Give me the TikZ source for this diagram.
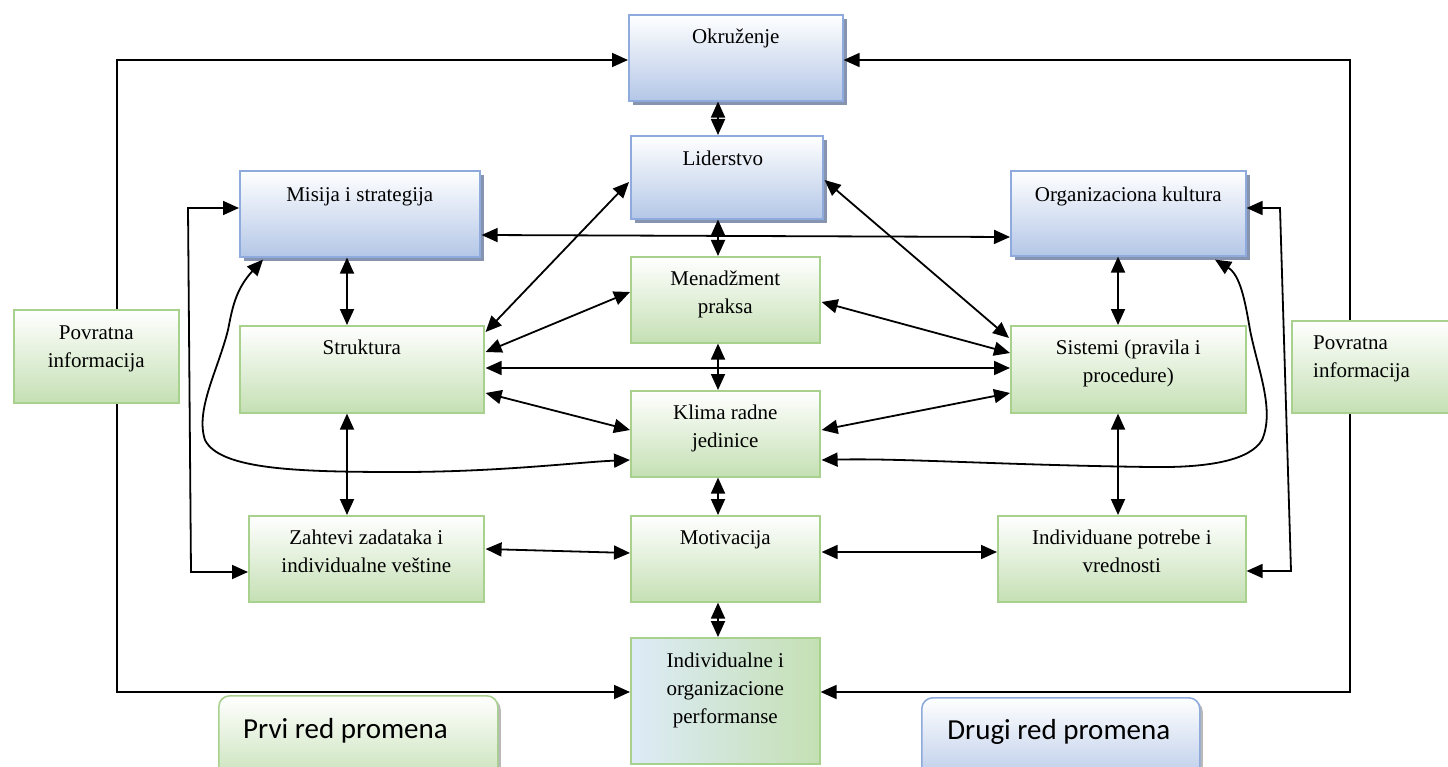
\documentclass[tikz,border=0pt]{standalone}
\usepackage{fontspec}
\setmainfont{Liberation Serif}
\newfontfamily\calib{Carlito}
\usetikzlibrary{arrows.meta,shadows,calc}
\definecolor{bline}{RGB}{143,170,220}
\definecolor{bfill}{RGB}{180,199,231}
\definecolor{bshadow}{RGB}{135,148,175}
\definecolor{gline}{RGB}{169,209,142}
\definecolor{gfill}{RGB}{197,224,180}
\definecolor{pleft}{RGB}{221,235,247}
\definecolor{lshadow}{RGB}{185,185,185}
\tikzset{
  conn/.style={line width=1.8pt, {Triangle[length=16pt,width=14pt]}-{Triangle[length=16pt,width=14pt]}},
  boxbase/.style={anchor=north west, inner sep=0pt, line width=1.6pt},
  bluebox/.style={boxbase, draw=bline, top color=white, bottom color=bfill,
     drop shadow={shadow xshift=4.5pt, shadow yshift=-4.5pt, fill=bshadow, opacity=1}},
  greenbox/.style={boxbase, draw=gline, top color=white, bottom color=gfill},
  lbl/.style={font=\fontsize{21}{28}\selectfont, align=center, inner sep=0pt, anchor=north},
  leg/.style={font=\calib\fontsize{29}{34}\selectfont, inner sep=0pt},
}
\begin{document}
\begin{tikzpicture}[x=1pt,y=-1pt]
\useasboundingbox (0,0) rectangle (1448,767);
% ---------- boxes ----------
\node[bluebox, minimum width=214pt, minimum height=86pt] (okr) at (628,14) {};
\node[bluebox, minimum width=192pt, minimum height=83pt] (lid) at (630,135) {};
\node[bluebox, minimum width=240pt, minimum height=86pt] (mis) at (239,170) {};
\node[bluebox, minimum width=235pt, minimum height=85pt] (org) at (1010,170) {};
\node[greenbox, minimum width=189pt, minimum height=86pt] (men) at (630,256) {};
\node[greenbox, minimum width=244pt, minimum height=87pt] (str) at (239,325) {};
\node[greenbox, minimum width=235pt, minimum height=87pt] (sis) at (1010,325) {};
\node[greenbox, minimum width=189pt, minimum height=86pt] (kli) at (630,390) {};
\node[greenbox, minimum width=235pt, minimum height=86pt] (zah) at (248,515) {};
\node[greenbox, minimum width=189pt, minimum height=86pt] (mot) at (630,515) {};
\node[greenbox, minimum width=248pt, minimum height=86pt] (ind) at (997,515) {};
\node[boxbase, draw=gline, left color=pleft, right color=gfill, minimum width=189pt, minimum height=126pt] (perf) at (630,637) {};
\coordinate (cx) at (718,0);
\coordinate (cl) at (347,0);
\coordinate (cr) at (1118,0);
\coordinate (ol) at (117,60);
\coordinate (or) at (1350,60);
\coordinate (lb1) at (188,208);
\coordinate (lb2) at (191,572);
\coordinate (rb1) at (1280,208);
\coordinate (rb2) at (1291,571);
% ---------- connectors ----------
\draw[conn] ($(perf.north west)+(0,55)$) -| (ol) -- ($(okr.north west)+(0,46)$);
\draw[conn] ($(perf.north east)+(0,55)$) -| (or) -- ($(okr.north east)+(0,46)$);
\draw[conn] ($(mis.north west)+(0,38)$) -- (lb1) -- (lb2) -- ($(zah.north west)+(0,57)$);
\draw[conn] ($(org.north east)+(0,38)$) -- (rb1) -- (rb2) -- ($(ind.north east)+(0,56)$);
\draw[conn] (okr.south -| cx) -- (lid.north -| cx);
\draw[conn] (lid.south -| cx) -- (men.north -| cx);
\draw[conn] (men.south -| cx) -- (kli.north -| cx);
\draw[conn] (kli.south -| cx) -- (mot.north -| cx);
\draw[conn] (mot.south -| cx) -- (perf.north -| cx);
\draw[conn] (mis.south -| cl) -- (str.north -| cl);
\draw[conn] (str.south -| cl) -- (zah.north -| cl);
\draw[conn] (org.south -| cr) -- (sis.north -| cr);
\draw[conn] (sis.south -| cr) -- (ind.north -| cr);
\draw[conn] ($(mis.north east)+(1,65)$) -- ($(org.north west)+(0,67)$);
\draw[conn] ($(str.north east)+(1,43)$) -- ($(sis.north west)+(0,43)$);
\draw[conn] ($(lid.north west)+(-1,47)$) -- ($(str.north east)+(1,7)$);
\draw[conn] ($(lid.north east)+(1,45)$) -- ($(sis.north west)+(-1,13)$);
\draw[conn] ($(str.north east)+(1,27)$) -- ($(men.north west)+(0,36)$);
\draw[conn] ($(men.north east)+(1,46)$) -- ($(sis.north west)+(0,28)$);
\draw[conn] ($(str.north east)+(1,68)$) -- ($(kli.north west)+(0,40)$);
\draw[conn] ($(kli.north east)+(1,40)$) -- ($(sis.north west)+(0,68)$);
\draw[conn] ($(zah.north east)+(1,34)$) -- ($(mot.north west)+(0,38)$);
\draw[conn] ($(mot.north east)+(1,37)$) -- ($(ind.north west)+(0,37)$);
\draw[conn] ($(mis.south west)+(24,2)$) .. controls (235,290) and (232,310) .. (228,330)
   .. controls (218,370) and (195,410) .. (205,440)
   .. controls (220,470) and (300,472) .. (400,472)
   .. controls (500,472) and (580,462) .. ($(kli.north west)+(0,70)$);
\draw[conn] ($(org.south west)+(205,3)$) .. controls (1240,275) and (1245,300) .. (1250,330)
   .. controls (1258,370) and (1275,410) .. (1262,440)
   .. controls (1250,460) and (1210,468) .. (1150,467)
   .. controls (1000,465) and (900,458) .. ($(kli.north east)+(1,70)$);
% ---------- boxes on top of lines ----------
\node[greenbox, minimum width=165pt, minimum height=93pt] (pl) at (13,309) {};
\node[greenbox, minimum width=165pt, minimum height=92pt] (pr) at (1291,320) {};
\node[boxbase, draw=gline, rounded corners=11pt, top color=white, bottom color=gfill,
   drop shadow={shadow xshift=3pt, shadow yshift=-3pt, fill=lshadow, opacity=1},
   minimum width=279pt, minimum height=90pt] (prvi) at (218,695) {};
\node[boxbase, draw=bline, rounded corners=11pt, top color=white, bottom color=bfill,
   drop shadow={shadow xshift=3pt, shadow yshift=-3pt, fill=lshadow, opacity=1},
   minimum width=278pt, minimum height=90pt] (drugi) at (921,697) {};
% ---------- texts ----------
\node[lbl] (t-okr) at ($(okr.north)+(0,15)$) {Okruženje};
\node[lbl] (t-lid) at ($(lid.north)+(-4,16)$) {Liderstvo};
\node[lbl] (t-mis) at ($(mis.north)+(0,17)$) {Misija i strategija};
\node[lbl] (t-org) at ($(org.north)+(0,17)$) {Organizaciona kultura};
\node[lbl] (t-men) at ($(men.north)+(0,15)$) {Menadžment\\praksa};
\node[lbl] (t-str) at ($(str.north)+(0,15)$) {Struktura};
\node[lbl] (t-sis) at ($(sis.north)+(0,15)$) {Sistemi (pravila i\\procedure)};
\node[lbl] (t-kli) at ($(kli.north)+(0,15)$) {Klima radne\\jedinice};
\node[lbl] (t-zah) at ($(zah.north)+(0,15)$) {Zahtevi zadataka i\\individualne veštine};
\node[lbl] (t-mot) at ($(mot.north)+(0,15)$) {Motivacija};
\node[lbl] (t-ind) at ($(ind.north)+(0,15)$) {Individuane potrebe i\\vrednosti};
\node[lbl] (t-perf) at ($(perf.north)+(0,16)$) {Individualne i\\organizacione\\performanse};
\node[lbl] (t-pl) at ($(pl.north)+(0,17)$) {Povratna\\informacija};
\node[lbl, align=left, anchor=north west] (t-pr) at ($(pr.north west)+(22,16)$) {Povratna\\informacija};
\node[leg, anchor=base west] (t-prvi) at ($(prvi.north west)+(25,43)$) {Prvi red promena};
\node[leg, anchor=base] (t-drugi) at ($(drugi.north)+(-2,42)$) {Drugi red promena};
\end{tikzpicture}
\end{document}
